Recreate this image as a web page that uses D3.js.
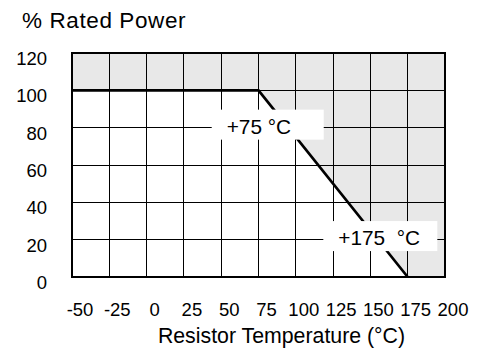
<!DOCTYPE html>
<html>
<head>
<meta charset="utf-8">
<script src="https://cdn.jsdelivr.net/npm/d3@7"></script>
<style>
  body { margin: 0; background: #fff; }
  text { font-family: "Liberation Sans", Arial, Helvetica, sans-serif; fill: #000; }
</style>
</head>
<body>
<svg id="chart" width="485" height="351"></svg>
<script>
// Power derating curve for the resistor
const temperatureTicks = [-50, -25, 0, 25, 50, 75, 100, 125, 150, 175, 200];
const powerTicks = [0, 20, 40, 60, 80, 100, 120];
const deratingTemp = [-50, 75, 175];
const deratingPower = [100, 100, 0];

// Callouts at the derating knee points
const annotationText = ["+75 °C", "+175  °C"];
const annotationTemp = [53.7, 128.5];
const annotationPower = [76.8, 17.1];

const svg = d3.select("#chart");
const plot = { left: 72, right: 445, top: 53, bottom: 277 };

const x = d3.scaleLinear().domain([-50, 200]).range([plot.left, plot.right]);
const y = d3.scaleLinear().domain([0, 120]).range([plot.bottom, plot.top]);

// Shaded "not allowed" region above the curve
const curve = deratingTemp.map((t, i) => [t, deratingPower[i]]);
curve.push([x.domain()[1], 0]);
svg.append("path")
  .datum(curve)
  .attr("fill", "#e8e8e8")
  .attr("d", d3.area()
    .x(d => x(d[0]))
    .y0(() => y(120))
    .y1(d => y(d[1])));

// Grid
const grid = svg.append("g").attr("stroke", "#000").attr("stroke-width", 1).attr("shape-rendering", "crispEdges");
grid.selectAll(".v").data(temperatureTicks.slice(1, -1)).join("line")
  .attr("x1", d => x(d)).attr("x2", d => x(d))
  .attr("y1", y(120)).attr("y2", y(0));
grid.selectAll(".h").data(powerTicks.slice(1, -1)).join("line")
  .attr("x1", x(-50)).attr("x2", x(200))
  .attr("y1", d => y(d)).attr("y2", d => y(d));

// Derating line
svg.append("path")
  .datum(deratingTemp.map((t, i) => [t, deratingPower[i]]))
  .attr("fill", "none")
  .attr("stroke", "#000")
  .attr("stroke-width", 2.7)
  .attr("d", d3.line().x(d => x(d[0])).y(d => y(d[1])));

// Callout boxes and text
const notes = svg.append("g");
annotationText.forEach((label, i) => {
  const tx = x(annotationTemp[i]), ty = y(annotationPower[i]);
  notes.append("rect")
    .attr("x", tx - 15).attr("y", ty - 24)
    .attr("width", i === 0 ? 112 : 114).attr("height", 30)
    .attr("fill", "#fff");
  notes.append("text")
    .attr("x", tx).attr("y", ty)
    .style("white-space", "pre")
    .attr("font-size", 20.8)
    .text(label);
});

// Plot frame
svg.append("rect")
  .attr("x", plot.left).attr("y", plot.top)
  .attr("width", plot.right - plot.left).attr("height", plot.bottom - plot.top)
  .attr("fill", "none").attr("stroke", "#000").attr("stroke-width", 2);

// Axes (labels only), plain hyphen for negatives
const plain = d => String(d);
const xAxis = svg.append("g")
  .attr("transform", `translate(0,${plot.bottom})`)
  .call(d3.axisBottom(x).tickValues(temperatureTicks).tickFormat(plain).tickSize(0).tickPadding(0));
xAxis.select(".domain").remove();
xAxis.selectAll("text")
  .attr("dx", 7.5).attr("y", 39).attr("dy", 0);

const yAxis = svg.append("g")
  .attr("transform", `translate(${plot.left},0)`)
  .call(d3.axisLeft(y).tickValues(powerTicks).tickFormat(plain).tickSize(0).tickPadding(0));
yAxis.select(".domain").remove();
yAxis.selectAll("text")
  .attr("x", -25).attr("dy", 11.5);

[xAxis, yAxis].forEach(g => g.attr("font-family", null).attr("font-size", 18.5));

// Titles
svg.append("text")
  .attr("x", 22).attr("y", 28)
  .attr("font-size", 22.5)
  .attr("letter-spacing", 0.6)
  .text("% Rated Power");

svg.append("text")
  .attr("x", (plot.left + plot.right) / 2 + 23).attr("y", 343)
  .attr("text-anchor", "middle")
  .attr("font-size", 21.3)
  .text("Resistor Temperature (°C)");
</script>
</body>
</html>
